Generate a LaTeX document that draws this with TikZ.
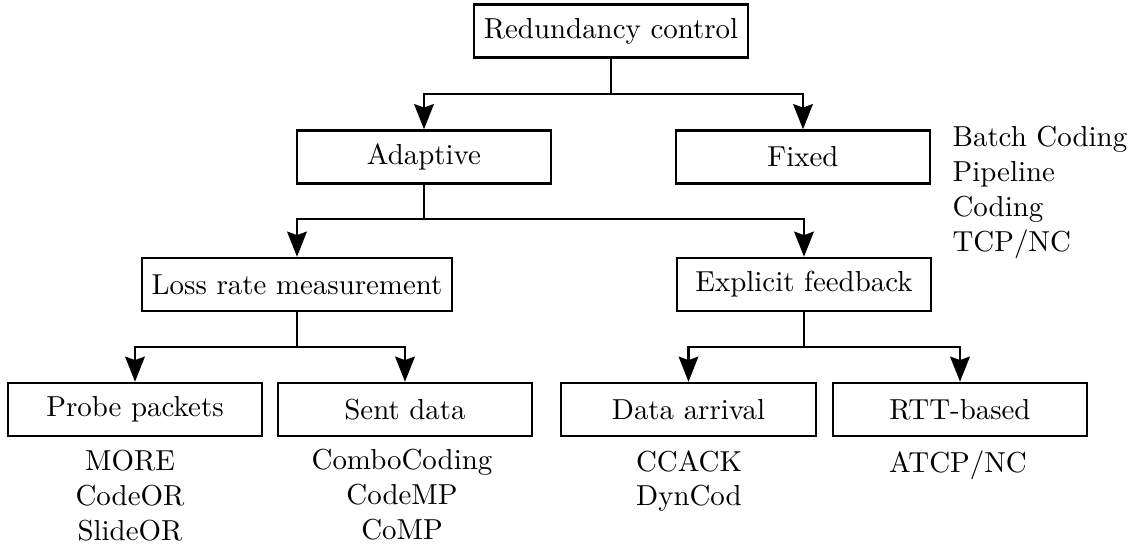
\documentclass[tikz,border=0pt]{standalone}
\usetikzlibrary{arrows.meta}
\begin{document}
\begin{tikzpicture}[x=0.346pt,y=-0.346pt,
  box/.style={draw, line width=0.8pt, minimum width=88pt, minimum height=18.4pt, inner sep=3.333pt},
  conn/.style={line width=0.8pt, -{Stealth[length=8.7pt,width=6.8pt,inset=1.2pt]}},
  lst/.style={align=center, anchor=north, inner sep=0pt}]
\useasboundingbox (0,0) rectangle (1134,546);
\node[box] (root) at (611,31) {Redundancy control};
\node[box] (adaptive) at (424,157) {Adaptive};
\node[box] (fixed) at (803,157) {Fixed};
\node[box] (loss) at (297,284.5) {Loss rate measurement};
\node[box] (explicit) at (804,284.5) {Explicit feedback};
\node[box] (probe) at (135,409.5) {Probe packets};
\node[box] (sent) at (405,409.5) {Sent data};
\node[box] (data) at (688.5,409.5) {Data arrival};
\node[box] (rtt) at (960,409.5) {RTT-based};

\draw[conn] (root.south) -- ++(0,35) -| (adaptive.north);
\draw[conn] (root.south) -- ++(0,35) -| (fixed.north);
\draw[conn] (adaptive.south) -- ++(0,34) -| (loss.north);
\draw[conn] (adaptive.south) -- ++(0,34) -| (explicit.north);
\draw[conn] (loss.south) -- ++(0,35) -| (probe.north);
\draw[conn] (loss.south) -- ++(0,35) -| (sent.north);
\draw[conn] (explicit.south) -- ++(0,35) -| (data.north);
\draw[conn] (explicit.south) -- ++(0,35) -| (rtt.north);

\node[lst] (l1) at (130,450) {MORE\\CodeOR\\SlideOR};
\node[lst] (l2) at (402,449) {ComboCoding\\CodeMP\\CoMP};
\node[lst] (l3) at (689,450) {CCACK\\DynCod};
\node[lst] (l4) at (958,450) {ATCP/NC};
\node[lst, anchor=north west, align=left] (l5) at (952,126) {Batch Coding\\Pipeline\\Coding\\TCP/NC};
\end{tikzpicture}
\end{document}
